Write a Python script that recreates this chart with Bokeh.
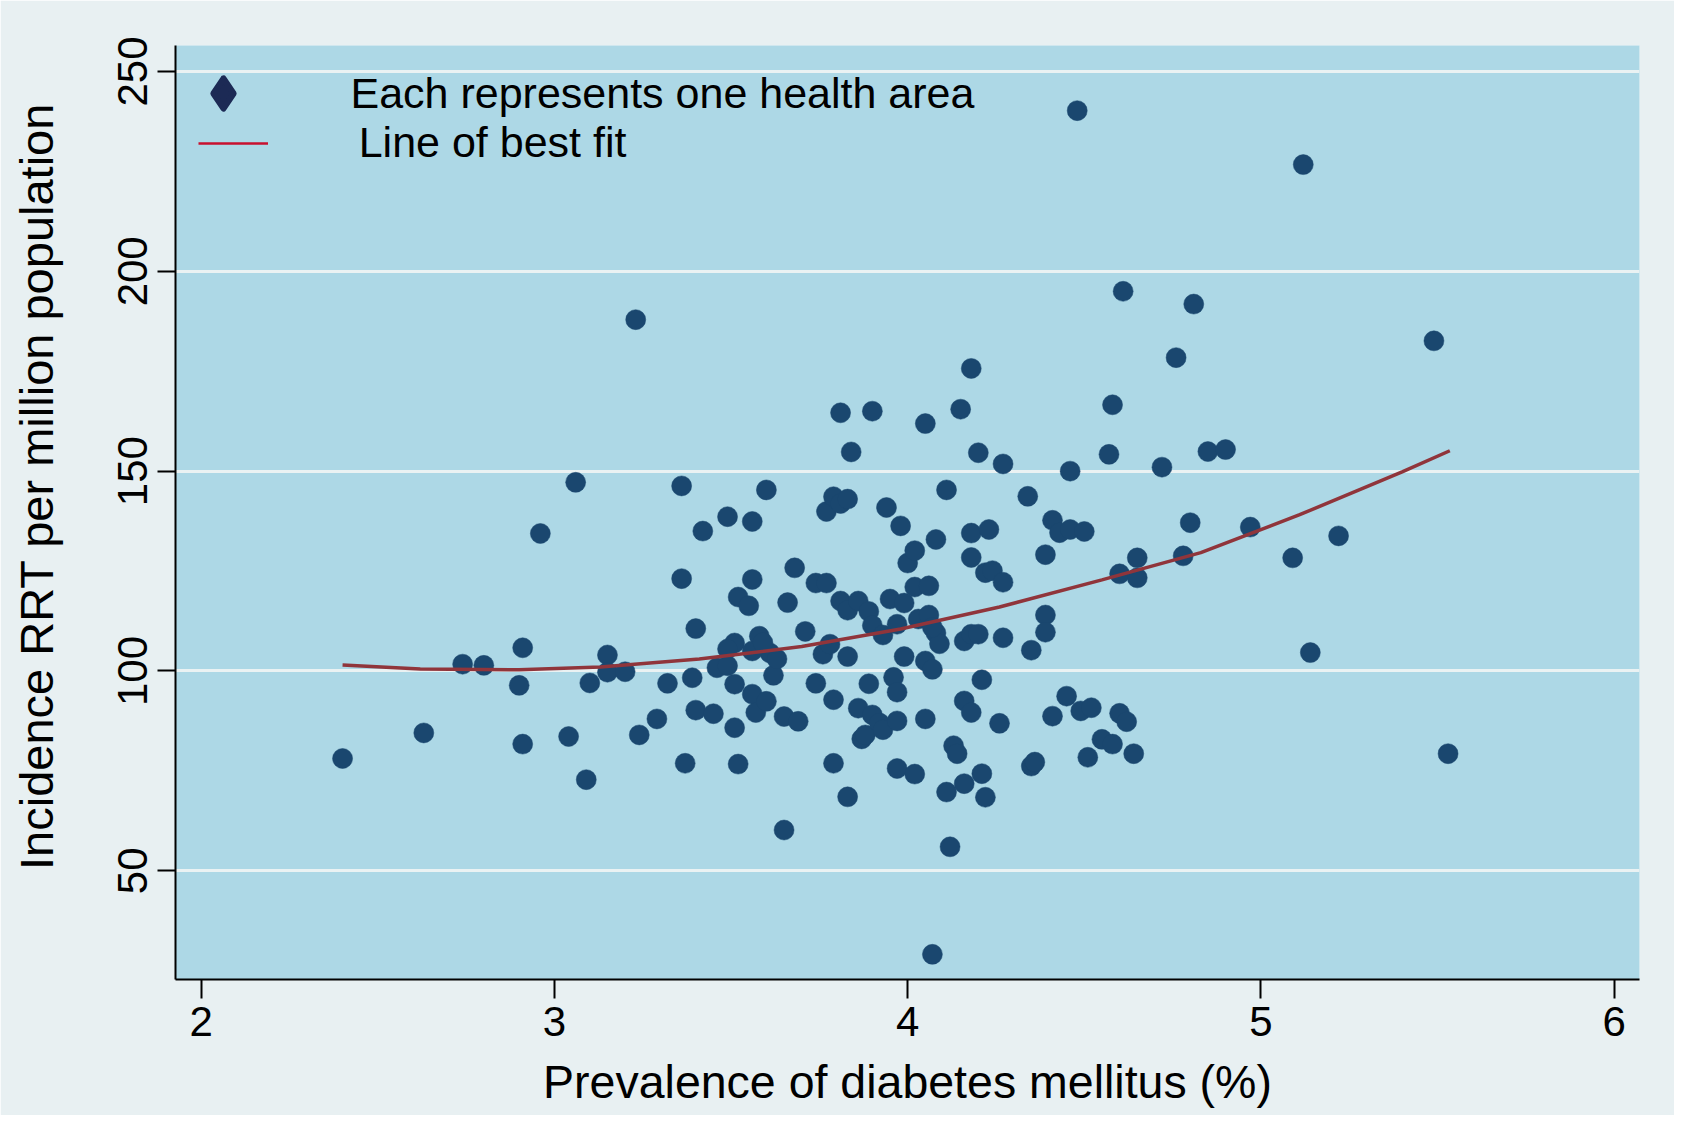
from bokeh.plotting import figure
from bokeh.models import ColumnDataSource, Range1d, FixedTicker, Legend, LegendItem
from bokeh.embed import file_html
from bokeh.resources import INLINE

# ---- data ----
diabetes_prev = [
    2.40, 2.63, 2.74, 2.80, 2.91, 2.90, 2.91, 2.96, 3.04, 3.06,
    3.09, 3.10, 3.15, 3.15, 3.20, 3.23, 3.24, 3.29, 3.32, 3.36,
    3.36, 3.37, 3.39, 3.40, 3.40, 3.42, 3.45, 3.49, 3.46, 3.51,
    3.52, 3.51, 3.52, 3.51, 3.55, 3.56, 3.56, 3.56, 3.57, 3.58,
    3.60, 3.61, 3.60, 3.62, 3.63, 3.65, 3.65, 3.66, 3.68, 3.69,
    3.71, 3.74, 3.74, 3.77, 3.76, 3.78, 3.77, 3.79, 3.79, 3.79,
    3.81, 3.81, 3.81, 3.83, 3.83, 3.83, 3.83, 3.84, 3.86, 3.86,
    3.87, 3.88, 3.89, 3.89, 3.90, 3.90, 3.90, 3.93, 3.92, 3.93,
    3.94, 3.95, 3.96, 3.97, 3.97, 3.97, 3.98, 3.99, 4.00, 3.99,
    4.02, 4.02, 4.02, 4.03, 4.05, 4.05, 4.05, 4.06, 4.06, 4.07,
    4.07, 4.08, 4.08, 4.09, 4.11, 4.11, 4.12, 4.13, 4.14, 4.15,
    4.16, 4.16, 4.16, 4.18, 4.18, 4.18, 4.18, 4.18, 4.20, 4.20,
    4.21, 4.21, 4.22, 4.22, 4.23, 4.24, 4.26, 4.27, 4.27, 4.27,
    4.34, 4.35, 4.35, 4.36, 4.39, 4.39, 4.39, 4.41, 4.41, 4.43,
    4.45, 4.46, 4.46, 4.48, 4.49, 4.50, 4.51, 4.52, 4.55, 4.57,
    4.58, 4.58, 4.60, 4.60, 4.61, 4.62, 4.64, 4.65, 4.65, 4.72,
    4.76, 4.78, 4.80, 4.81, 4.85, 4.90, 4.97, 5.09, 5.12, 5.14,
    5.22, 5.49, 5.53, 3.97, 4.07, 3.49, 3.56, 3.59, 3.49,
]
rrt_incidence = [
    78.1, 84.5, 101.7, 101.4, 105.8, 96.4, 81.7, 134.4, 83.6, 147.2,
    72.8, 97.0, 104.0, 99.7, 99.8, 187.9, 84.0, 88.0, 96.9, 146.3,
    123.1, 76.9, 98.3, 110.6, 90.2, 135.0, 89.3, 138.6, 100.8, 107.0,
    118.5, 85.8, 76.7, 96.7, 116.3, 137.4, 122.9, 94.2, 89.6, 108.7,
    145.3, 104.5, 92.4, 98.9, 103.0, 88.6, 60.2, 117.1, 125.8, 87.4,
    109.9, 96.9, 122.0, 122.0, 104.2, 106.7, 139.9, 76.9, 143.6, 92.8,
    117.5, 164.6, 141.9, 143.0, 103.6, 68.5, 115.2, 154.8, 117.5, 90.7,
    83.0, 84.0, 96.8, 114.9, 165.0, 111.4, 89.0, 109.0, 87.0, 85.3,
    140.9, 118.0, 98.4, 94.7, 87.5, 75.6, 136.3, 103.6, 127.0, 117.0,
    121.0, 130.1, 74.2, 113.0, 102.5, 88.0, 161.9, 121.3, 114.0, 100.4,
    29.1, 109.5, 132.9, 106.8, 69.7, 145.3, 56.0, 81.3, 79.3, 165.5,
    107.5, 92.5, 71.8, 175.7, 128.4, 134.5, 109.2, 89.6, 154.6, 109.2,
    74.3, 97.8, 68.4, 124.6, 135.4, 125.1, 86.9, 108.3, 122.2, 151.8,
    143.7, 105.2, 76.2, 77.2, 129.1, 114.0, 109.7, 88.7, 137.7, 134.6,
    93.7, 135.4, 150.0, 240.2, 90.0, 134.9, 78.4, 90.8, 82.9, 154.2,
    81.7, 166.6, 124.3, 89.4, 195.0, 87.3, 79.3, 128.3, 123.3, 151.0,
    178.4, 128.8, 137.1, 191.8, 154.9, 155.4, 136.0, 128.3, 226.7, 104.6,
    133.8, 182.6, 79.3, 111.7, 110.9, 105.5, 105.0, 107.1, 101.3,
]
fit_x = [2.40, 2.62, 2.90, 3.13, 3.41, 3.70, 3.98, 4.26, 4.55, 4.83, 5.11, 5.40, 5.535]
fit_y = [101.5, 100.5, 100.3, 101.0, 103.0, 106.1, 110.5, 116.0, 122.8, 129.6, 139.1, 149.8, 155.1]
x_ticks = [2, 3, 4, 5, 6]
y_ticks = [50, 100, 150, 200, 250]

FONT = "Liberation Sans"

p = figure(width=1674, height=1115, output_backend="svg", toolbar_location=None,
           x_range=Range1d(1.927, 6.072), y_range=Range1d(22.8, 256.5),
           min_border_left=175, min_border_right=35, min_border_top=45,
           min_border_bottom=136)

p.background_fill_color = "#ADD8E6"
p.border_fill_color = "#E8F0F2"
p.outline_line_color = None

# axes
for ax in (p.xaxis[0], p.yaxis[0]):
    ax.axis_line_color = "black"
    ax.axis_line_width = 2
    ax.major_tick_line_color = "black"
    ax.major_tick_line_width = 2
    ax.major_tick_in = 0
    ax.minor_tick_line_color = None
    ax.major_label_text_font = FONT
    ax.major_label_text_color = "black"
    ax.major_label_text_font_size = "42px"
    ax.axis_label_text_font = FONT
    ax.axis_label_text_font_style = "normal"
    ax.axis_label_text_color = "black"
    ax.axis_label_text_font_size = "46.5px"

p.xaxis.ticker = FixedTicker(ticks=x_ticks)
p.yaxis.ticker = FixedTicker(ticks=y_ticks)
p.xaxis.major_tick_out = 19
p.yaxis.major_tick_out = 18
p.xaxis.major_label_standoff = 8
p.yaxis.major_label_standoff = 10
p.yaxis.major_label_orientation = "vertical"
p.xaxis.axis_label = "Prevalence of diabetes mellitus (%)"
p.xaxis.axis_label_standoff = 17
# leading no-break spaces lift the (centred) title a little, as in the reference
p.yaxis.axis_label = "\u00a0\u00a0\u00a0\u00a0Incidence RRT per million population"
p.yaxis.axis_label_text_font_size = "47px"
p.yaxis.axis_label_standoff = 53

p.xgrid.visible = False
p.ygrid.grid_line_color = "#EAF2F3"
p.ygrid.grid_line_width = 3

src = ColumnDataSource(data=dict(x=diabetes_prev, y=rrt_incidence))
p.scatter("x", "y", source=src, marker="circle", size=20,
          fill_color="#1A476F", line_color="#1A476F", line_width=0.5)

p.line(fit_x, fit_y, line_color="#90353B", line_width=3.5)

# legend (custom, two separate blocks)
nan = float("nan")
leg_marker = p.scatter([nan], [nan], marker="diamond", fill_color="#1C2A55",
                       line_color="#1C2A55", line_width=6, line_join="round")
leg_line = p.line([nan], [nan], line_color="#C8102E", line_width=2.5)

common = dict(padding=0, margin=0, spacing=0, border_line_color=None,
              background_fill_alpha=0, label_text_font=FONT,
              label_text_font_size="43px", label_text_color="black")
leg1 = Legend(items=[LegendItem(label="Each represents one health area", renderers=[leg_marker])],
              location=(9.5, 848), glyph_width=76, glyph_height=76,
              label_standoff=90, **common)
leg2 = Legend(items=[LegendItem(label="Line of best fit", renderers=[leg_line])],
              location=(22.7, 812), glyph_width=70, glyph_height=44,
              label_standoff=91, **common)
p.add_layout(leg1)
p.add_layout(leg2)

open("out.html", "w").write(file_html(p, INLINE))
